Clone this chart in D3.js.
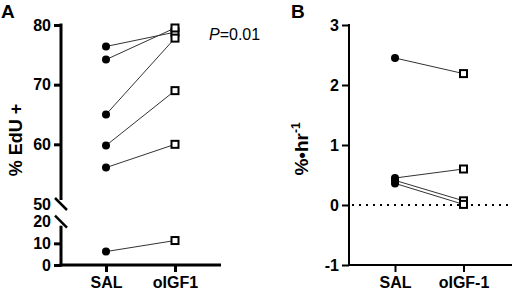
<!DOCTYPE html>
<html><head><meta charset="utf-8">
<script src="https://cdn.jsdelivr.net/npm/d3@7"></script>
<style>body{margin:0;background:#fff}svg{display:block}text{font-family:Arial,"Liberation Sans",sans-serif}</style>
</head><body><svg id="c" width="512" height="296"></svg>
<script>
const groupsA = ["SAL", "oIGF1"];
const salA = [76.4, 74.2, 65.0, 59.8, 56.1, 6.2];
const igfA = [78.8, 79.5, 77.8, 69.0, 60.0, 11.3];
const upperTicksA = [50, 60, 70, 80];
const lowerTicksA = [0, 10, 20];
const groupsB = ["SAL", "oIGF-1"];
const salB = [2.45, 0.45, 0.41, 0.36];
const igfB = [2.19, 0.60, 0.07, 0.01];
const ticksB = [-1, 0, 1, 2, 3];
const pText = "=0.01";

const svg = d3.select("#c");
const FS = 16;

// ---- Panel A ----
const xA = d3.scalePoint().domain(groupsA).range([106, 175]);
const yUp = d3.scaleLinear().domain([50, 80]).range([204, 25]);
const yLo = d3.scaleLinear().domain([0, 20]).range([265, 221.7]);
const yA = v => v >= 40 ? yUp(v) : yLo(v);
const gA = svg.append("g");

const axUp = d3.axisLeft(yUp).tickValues(upperTicksA).tickSize(7).tickPadding(3);
const axLo = d3.axisLeft(yLo).tickValues(lowerTicksA).tickSize(7).tickPadding(3);
function styleAxis(g, w){
  g.select(".domain").remove();
  g.selectAll(".tick line").attr("stroke","#000").attr("stroke-width",w);
  g.selectAll(".tick text").attr("font-size",FS).attr("font-weight","bold").attr("fill","#000");
}
const gUp = gA.append("g").attr("transform","translate(61,0)").call(axUp); styleAxis(gUp,3);
gUp.selectAll(".tick").filter(d=>d===50).select("line").remove();
const gLo = gA.append("g").attr("transform","translate(61,0)").call(axLo); styleAxis(gLo,3);
gLo.selectAll(".tick").filter(d=>d===20).select("line").remove();
// axis spines
gA.append("line").attr("x1",61).attr("x2",61).attr("y1",yUp(80)-1.5).attr("y2",yUp(50)-4).attr("stroke","#000").attr("stroke-width",3);
gA.append("line").attr("x1",61).attr("x2",61).attr("y1",yLo(20)+4).attr("y2",266.5).attr("stroke","#000").attr("stroke-width",3);
// break marks
gA.append("line").attr("x1",55).attr("x2",67).attr("y1",yUp(50)-6).attr("y2",yUp(50)+6).attr("stroke","#000").attr("stroke-width",2.5);
gA.append("line").attr("x1",55).attr("x2",67).attr("y1",yLo(20)-6).attr("y2",yLo(20)+6).attr("stroke","#000").attr("stroke-width",2.5);
// x axis
const axXA = d3.axisBottom(xA).tickSize(7).tickPadding(5);
const gXA = gA.append("g").attr("transform","translate(0,265)").call(axXA);
gXA.select(".domain").remove();
gXA.selectAll(".tick line").attr("stroke","#000").attr("stroke-width",3);
gXA.selectAll(".tick text").attr("font-size",FS).attr("font-weight","bold").attr("fill","#000");
gA.append("line").attr("x1",59.5).attr("x2",221).attr("y1",265).attr("y2",265).attr("stroke","#000").attr("stroke-width",3);

salA.forEach((v,i)=>{
  gA.append("line").attr("x1",xA("SAL")).attr("y1",yA(v)).attr("x2",xA("oIGF1")).attr("y2",yA(igfA[i]))
    .attr("stroke","#333").attr("stroke-width",1);
});
salA.forEach(v=>gA.append("circle").attr("cx",xA("SAL")).attr("cy",yA(v)).attr("r",4).attr("fill","#000"));
igfA.forEach(v=>gA.append("rect").attr("x",xA("oIGF1")-3.5).attr("y",yA(v)-3.5).attr("width",7).attr("height",7)
  .attr("fill","#fff").attr("stroke","#000").attr("stroke-width",2));

gA.append("text").attr("transform","translate(22,140) rotate(-90)").attr("text-anchor","middle")
  .attr("font-size",18).attr("font-weight","bold").text("% EdU +");
gA.append("text").attr("x",1).attr("y",18).attr("font-size",19).attr("font-weight","bold").text("A");
const pt = gA.append("text").attr("x",209).attr("y",40).attr("font-size",16);
pt.append("tspan").attr("font-style","italic").text("P");
pt.append("tspan").text(pText);

// ---- Panel B ----
const xB = d3.scalePoint().domain(groupsB).range([395, 463.5]);
const yB = d3.scaleLinear().domain([-1, 3]).range([265, 25]);
const gB = svg.append("g");
const axYB = d3.axisLeft(yB).tickValues(ticksB).tickFormat(d=>String(d)).tickSize(7).tickPadding(3);
const gYB = gB.append("g").attr("transform","translate(349,0)").call(axYB);
gYB.select(".domain").remove();
styleAxis(gYB,2);
gB.append("line").attr("x1",349).attr("x2",349).attr("y1",24).attr("y2",266).attr("stroke","#000").attr("stroke-width",2);
const axXB = d3.axisBottom(xB).tickSize(7).tickPadding(5);
const gXB = gB.append("g").attr("transform","translate(0,265)").call(axXB);
gXB.select(".domain").remove();
gXB.selectAll(".tick line").attr("stroke","#000").attr("stroke-width",2);
gXB.selectAll(".tick text").attr("font-size",FS).attr("font-weight","bold").attr("fill","#000");
gB.append("line").attr("x1",348).attr("x2",512).attr("y1",265).attr("y2",265).attr("stroke","#000").attr("stroke-width",2);
gB.append("line").attr("x1",352).attr("x2",512).attr("y1",yB(0)).attr("y2",yB(0)).attr("stroke","#000")
  .attr("stroke-width",2).attr("stroke-dasharray","2,5");

salB.forEach((v,i)=>{
  gB.append("line").attr("x1",xB("SAL")).attr("y1",yB(v)).attr("x2",xB("oIGF-1")).attr("y2",yB(igfB[i]))
    .attr("stroke","#333").attr("stroke-width",1);
});
salB.forEach(v=>gB.append("circle").attr("cx",xB("SAL")).attr("cy",yB(v)).attr("r",4).attr("fill","#000"));
igfB.forEach(v=>gB.append("rect").attr("x",xB("oIGF-1")-3.5).attr("y",yB(v)-3.5).attr("width",7).attr("height",7)
  .attr("fill","#fff").attr("stroke","#000").attr("stroke-width",2));

const yl = gB.append("text").attr("transform","translate(308,149) rotate(-90)").attr("text-anchor","middle")
  .attr("font-size",19).attr("font-weight","bold");
yl.append("tspan").text("%•hr");
yl.append("tspan").attr("font-size",12).attr("dy",-8).text("-1");
gB.append("text").attr("x",291).attr("y",18).attr("font-size",19).attr("font-weight","bold").text("B");
</script></body></html>
